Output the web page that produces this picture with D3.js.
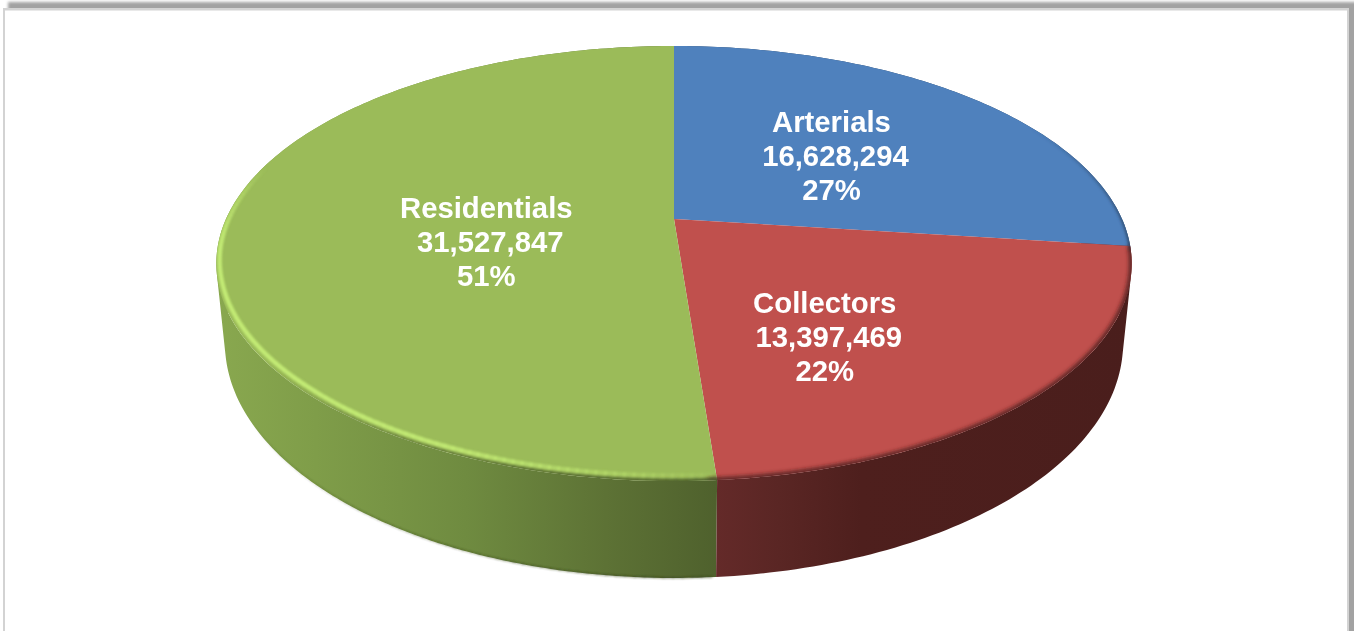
<!DOCTYPE html>
<html>
<head>
<meta charset="utf-8">
<script src="https://cdnjs.cloudflare.com/ajax/libs/d3/7.8.5/d3.min.js"></script>
<style>
html,body{margin:0;padding:0;background:#fff;overflow:hidden}
svg{display:block}
text{font-family:"Liberation Sans",Arial,sans-serif;font-weight:700;font-size:29.3px;fill:#fff;text-anchor:middle}
</style>
</head>
<body>
<script>
const categories = ["Arterials", "Collectors", "Residentials"];
const values = [16628294, 13397469, 31527847];
const percentLabels = ["27%", "22%", "51%"];
const topColors = ["#4f81bd", "#c0504d", "#9bbb59"];

const W = 1354, H = 631;
const svg = d3.select("body").append("svg").attr("width", W).attr("height", H);
const defs = svg.append("defs");
[["b08", 1], ["b15", 1.5], ["b2", 2], ["bt", .35]].forEach(([id, s]) =>
  defs.append("filter").attr("id", id).attr("filterUnits", "userSpaceOnUse")
    .attr("x", -20).attr("y", -20).attr("width", W + 40).attr("height", H + 100)
    .append("feGaussianBlur").attr("stdDeviation", s));

function grad(id, x1, x2, stops) {
  const g = defs.append("linearGradient").attr("id", id).attr("gradientUnits", "userSpaceOnUse")
    .attr("x1", x1).attr("x2", x2).attr("y1", 0).attr("y2", 0);
  stops.forEach(([o, c]) => g.append("stop").attr("offset", o).attr("stop-color", c));
}
grad("sideGreen", 216, 716, [[0, "#89a84f"], [.2, "#7f9d49"], [.5, "#6f8b40"], [.78, "#5d7235"], [1, "#4f612d"]]);
grad("sideRed", 716, 1132, [[0, "#642a29"], [.15, "#5a2624"], [.35, "#4e1f1d"], [1, "#4a1e1c"]]);
grad("sideBlue", 900, 1132, [[0, "#2a4565"], [1, "#2a4565"]]);
const sideFills = ["url(#sideBlue)", "url(#sideRed)", "url(#sideGreen)"];

// panel
svg.append("rect").attr("x", 8).attr("y", 2).attr("width", 1360).attr("height", 700).attr("fill", "#a2a2a2").attr("filter", "url(#b15)");
svg.append("rect").attr("x", 3).attr("y", 8).attr("width", 1346).attr("height", 700).attr("fill", "#d3d3d3");
svg.append("rect").attr("x", 5).attr("y", 10.5).attr("width", 1342).attr("height", 700).attr("fill", "#fff");

// perspective views of the top and bottom discs
const topDisc = {cx: 674, y0: 219, A: 448, B: 208.4, k: .2046};
const botDisc = {cx: 674, y0: 296, A: 440, B: 225.6, k: .2};
const project = (d, a, r = 1) => {
  const u = r * Math.sin(a), v = -r * Math.cos(a), w = 1 - d.k * v;
  return [d.cx + d.A * u / w, d.y0 + d.B * v / w];
};
const arcAngles = (a0, a1) => d3.range(0, 1.00001, 1 / Math.max(2, Math.ceil((a1 - a0) * 60))).map(t => a0 + (a1 - a0) * t);
const line = d3.line();
const pie = d3.pie().sort(null)(values);
const rad = Math.PI / 180;
const g = svg.append("g");

// sides: back to front, as one path of equally wound strips
[0, 2, 1].forEach(i => {
  const p = pie[i], as = arcAngles(p.startAngle, p.endAngle);
  const parts = d3.pairs(as).map(([a, b]) => {
    const q = [project(topDisc, a), project(topDisc, b), project(botDisc, b), project(botDisc, a)];
    if (d3.polygonArea(q) < 0) q.reverse();
    return line(q) + "Z";
  });
  g.append("path").attr("d", parts.join("")).attr("fill", sideFills[i]);
});

// dark thin line under the green side
const bottomEdge = d3.scaleLinear().domain([176, 205, 240]).range([.8, .55, 0]);
const edgeG = g.append("g").attr("filter", "url(#b08)");
d3.range(176, 240, 1).forEach(deg => {
  edgeG.append("path").attr("d", line([project(botDisc, deg * rad, .999), project(botDisc, (deg + 1.2) * rad, .999)]))
    .attr("stroke", "#36431c").attr("stroke-width", 1.2).attr("fill", "none").attr("opacity", bottomEdge(deg));
});

// top faces
g.selectAll("path.face").data(pie).join("path").attr("class", "face")
  .attr("d", d => line([[topDisc.cx, topDisc.y0]].concat(arcAngles(d.startAngle, d.endAngle).map(a => project(topDisc, a)))) + "Z")
  .attr("fill", (d, i) => topColors[i]);

defs.append("clipPath").attr("id", "topClip").append("path")
  .attr("d", line(arcAngles(0, 2 * Math.PI).map(a => project(topDisc, a))) + "Z");
const bevel = g.append("g").attr("clip-path", "url(#topClip)");

// bevel: blurred rim in the darker side colour, fading out along the arc
function rim(from, to, colour, width, opacity, filter) {
  const grp = bevel.append("g").attr("filter", filter);
  d3.range(from, to, 1).forEach(deg => {
    grp.append("path")
      .attr("d", line([project(topDisc, deg * rad), project(topDisc, (deg + 1.3) * rad)]))
      .attr("fill", "none").attr("stroke", colour).attr("stroke-width", width).attr("opacity", opacity(deg));
  });
}
const endRed = pie[1].endAngle / rad, startRed = pie[1].startAngle / rad;
rim(60, startRed, "#2a4565", 3, d3.scaleLinear().domain([60, 90, 97]).range([0, .8, 1]), "url(#b15)");
rim(startRed, endRed, "#4a1e1c", 4.5, () => 1, "url(#b2)");
rim(endRed, 232, "#4f612d", 4.5, d3.scaleLinear().domain([176, 195, 232]).range([1, .75, 0]), "url(#b15)");

// lime highlight on the green rim
const limeOpacity = d3.scaleLinear().domain([176, 190, 205, 225, 262, 285]).range([.1, .5, .9, 1, 1, 0]).clamp(true);
const limeR = d3.scaleLinear().domain([176, 225, 262]).range([.983, .985, .994]).clamp(true);
const limeG = bevel.append("g").attr("filter", "url(#b08)");
d3.range(176, 285, 1).forEach(deg => {
  limeG.append("path").attr("d", line([project(topDisc, deg * rad, limeR(deg)), project(topDisc, (deg + 1.3) * rad, limeR(deg + 1))]))
    .attr("stroke", "#c2ea74").attr("stroke-width", 4.4).attr("fill", "none").attr("opacity", limeOpacity(deg));
});

// labels
const fmt = d3.format(",");
const labelOffsets = [[0, 2], [-16, 36], [37, 19]];
const lineDx = [0, 4, 0];
pie.forEach((p, i) => {
  const mid = (p.startAngle + p.endAngle) / 2;
  const [x, y] = project(topDisc, mid, .5);
  const lx = x + labelOffsets[i][0], ly = y + labelOffsets[i][1];
  [categories[i], fmt(values[i]), percentLabels[i]].forEach((t, j) => {
    svg.append("text").attr("x", lx + lineDx[j]).attr("y", ly + 10 + (j - 1) * 34).attr("filter", "url(#bt)").text(t);
  });
});
</script>
</body>
</html>
